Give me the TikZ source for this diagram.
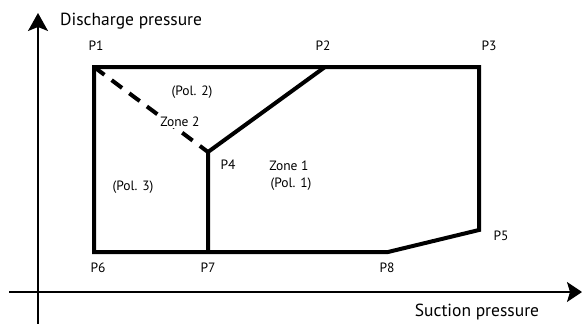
\documentclass[tikz,border=0pt]{standalone}
\usepackage{fontspec}
\setmainfont{PT Sans}
\usetikzlibrary{arrows.meta}
\begin{document}
\begin{tikzpicture}[x=1pt,y=-1pt,
  poly/.style={line width=4pt, line join=miter},
  axis/.style={line width=1.8pt},
  lbl/.style={font=\fontsize{13.5}{16}\selectfont, inner sep=0pt},
  big/.style={font=\fontsize{17.5}{21}\selectfont, inner sep=0pt}]
\useasboundingbox (0,0) rectangle (582,324);
% axes
\coordinate (ya0) at (38,324);
\coordinate (ya1) at (38,13);
\coordinate (xa0) at (9,292);
\coordinate (xa1) at (582,292);
\draw[axis, -{Stealth[width=20pt,length=18pt,inset=4pt]}] (ya0) -- (ya1);
\draw[axis, -{Stealth[width=20pt,length=15pt,inset=3pt]}] (xa0) -- (xa1);
% points
\coordinate (P1) at (94,67);
\coordinate (P2) at (325,67);
\coordinate (P3) at (479,67);
\coordinate (P4) at (208,152);
\coordinate (P5) at (479,230);
\coordinate (P6) at (94,252);
\coordinate (P7) at (208,252);
\coordinate (P8) at (388,252);
\draw[poly] (P1) -- (P3) -- (P5) -- (P8) -- (P6) -- cycle;
\draw[poly] (P2) -- (P4) -- (P7);
\draw[line width=4pt, dash pattern=on 13pt off 9pt] (P1) -- (P4);
% labels
\node[big, anchor=west] (yl) at (60,21) {Discharge pressure};
\node[big] (xl) at (477,312) {Suction pressure};
\node[lbl] (l1) at (96,46) {P1};
\node[lbl] (l2) at (323,46) {P2};
\node[lbl] (l3) at (489,46) {P3};
\node[lbl] (l4) at (228,165) {P4};
\node[lbl] (l5) at (501,236) {P5};
\node[lbl] (l6) at (98,268) {P6};
\node[lbl] (l7) at (208,268) {P7};
\node[lbl] (l8) at (387,268) {P8};
\node[lbl] (pol2) at (192,92) {(Pol. 2)};
\node[lbl, fill=white, inner sep=1pt] (z2) at (180,122) {Zone 2};
\node[lbl] (z1) at (289,166) {Zone 1};
\node[lbl] (pol1) at (291,184) {(Pol. 1)};
\node[lbl] (pol3) at (133,187) {(Pol. 3)};
\end{tikzpicture}
\end{document}
